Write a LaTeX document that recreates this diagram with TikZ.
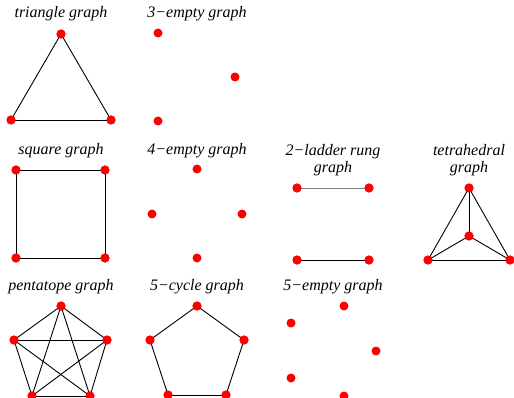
\documentclass[tikz,border=0pt]{standalone}
\usepackage{fontspec}
\setmainfont{Liberation Serif}
\newfontfamily\titlefont{Liberation Serif Italic}
\begin{document}
\begin{tikzpicture}[x=1pt,y=-1pt,
  vtx/.style={circle,fill=red,inner sep=0pt,minimum size=9pt},
  edge/.style={draw=black,line width=0.9pt},
  title/.style={font=\fontsize{16}{17}\selectfont\titlefont,align=center,inner sep=0pt}]
\useasboundingbox (0,0) rectangle (514,398);
% titles
\node[title] (t1) at (61,14) {triangle graph};
\node[title] (t2) at (197,14) {3−empty graph};
\node[title] (t3) at (61,151) {square graph};
\node[title] (t4) at (197,151) {4−empty graph};
\node[title] (t5) at (333,160) {2−ladder rung\\graph};
\node[title] (t6) at (469,160) {tetrahedral\\graph};
\node[title] (t7) at (61,287) {pentatope graph};
\node[title] (t8) at (197,287) {5−cycle graph};
\node[title] (t9) at (333,287) {5−empty graph};
% triangle graph
\node[vtx] (a1) at (61,34) {};
\node[vtx] (a2) at (11,120) {};
\node[vtx] (a3) at (111,120) {};
% 3-empty graph
\node[vtx] (b1) at (158,33) {};
\node[vtx] (b2) at (235,77) {};
\node[vtx] (b3) at (158,121) {};
% square graph
\node[vtx] (c1) at (16,170) {};
\node[vtx] (c2) at (105,170) {};
\node[vtx] (c3) at (105,258) {};
\node[vtx] (c4) at (16,258) {};
% 4-empty graph
\node[vtx] (d1) at (197,169) {};
\node[vtx] (d2) at (152,214) {};
\node[vtx] (d3) at (242,214) {};
\node[vtx] (d4) at (197,258) {};
% 2-ladder rung graph
\node[vtx] (e1) at (297,188) {};
\node[vtx] (e2) at (369,188) {};
\node[vtx] (e3) at (297,260) {};
\node[vtx] (e4) at (369,260) {};
% tetrahedral graph
\node[vtx] (f1) at (469,188) {};
\node[vtx] (f2) at (469,236) {};
\node[vtx] (f3) at (428,260) {};
\node[vtx] (f4) at (510,260) {};
% pentatope graph
\node[vtx] (g1) at (61,306) {};
\node[vtx] (g2) at (107,340) {};
\node[vtx] (g3) at (90,396) {};
\node[vtx] (g4) at (32,396) {};
\node[vtx] (g5) at (14,340) {};
% 5-cycle graph
\node[vtx] (h1) at (197,306) {};
\node[vtx] (h2) at (244,340) {};
\node[vtx] (h3) at (226,395) {};
\node[vtx] (h4) at (168,395) {};
\node[vtx] (h5) at (150,340) {};
% 5-empty graph
\node[vtx] (i1) at (344,306) {};
\node[vtx] (i2) at (291,323) {};
\node[vtx] (i3) at (376,351) {};
\node[vtx] (i4) at (291,378) {};
\node[vtx] (i5) at (344,396) {};
% edges
\foreach \u/\v in {a1/a2,a2/a3,a3/a1,
  c1/c2,c2/c3,c3/c4,c4/c1,
  e3/e4,
  f1/f2,f1/f3,f1/f4,f2/f3,f2/f4,f3/f4,
  g1/g2,g1/g3,g1/g4,g1/g5,g2/g3,g2/g4,g2/g5,g3/g4,g3/g5,g4/g5,
  h1/h2,h2/h3,h3/h4,h4/h5,h5/h1}
  \draw[edge] (\u.center) -- (\v.center);
\draw[edge,draw=gray] (e1.center) -- (e2.center);
% vertices again, on top of the edges
\foreach \n in {a1,a2,a3,c1,c2,c3,c4,e1,e2,e3,e4,f1,f2,f3,f4,g1,g2,g3,g4,g5,h1,h2,h3,h4,h5}
  \fill[red] (\n.center) circle[radius=4.5pt];
\end{tikzpicture}
\end{document}
